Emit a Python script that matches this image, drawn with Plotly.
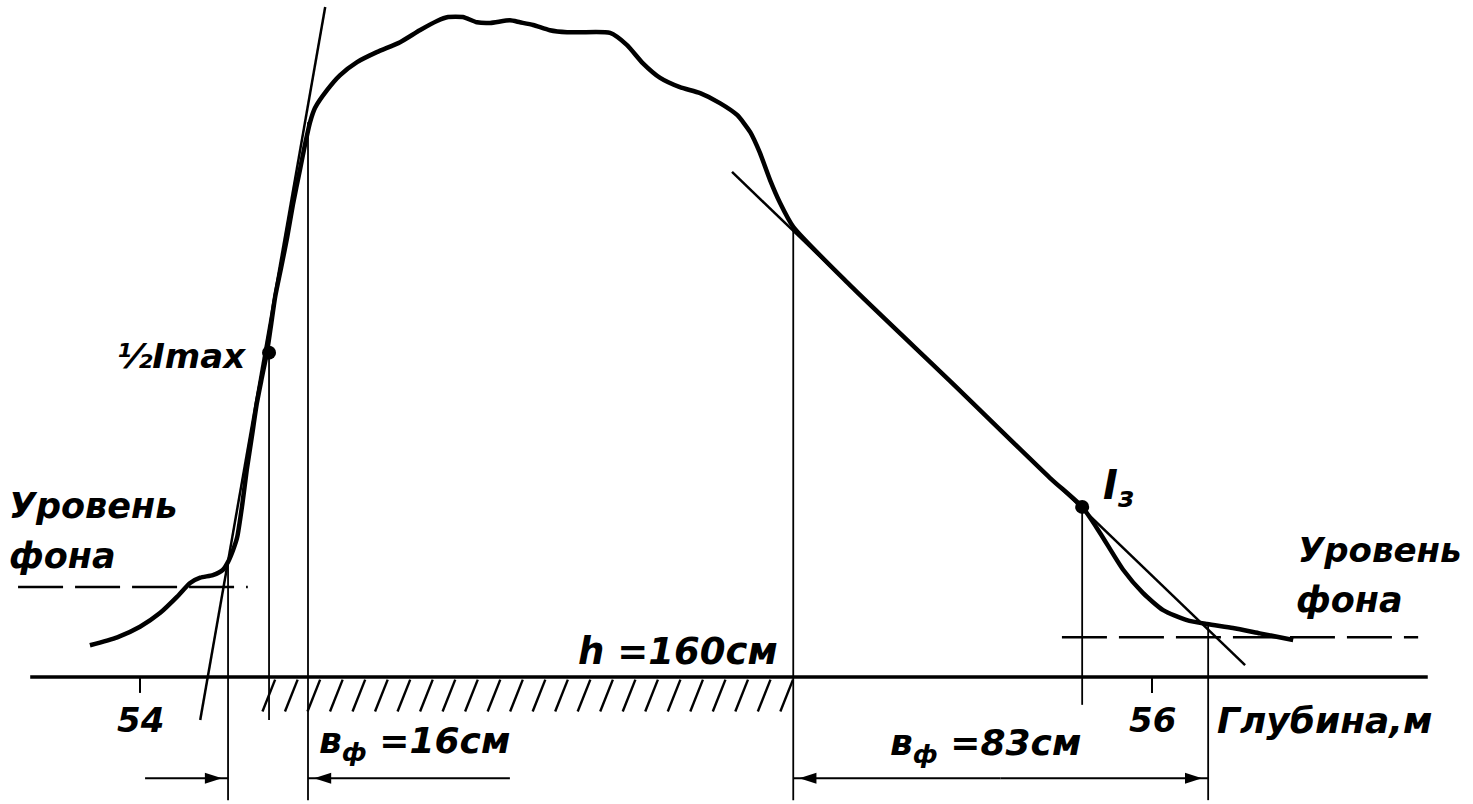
import numpy as np
import plotly.graph_objects as go

# ---- data (depth in m, intensity relative to Imax) ----
depth = [53.901, 53.955, 54.000, 54.040, 54.073, 54.099, 54.119, 54.144, 54.164, 54.174,
         54.184, 54.192, 54.202, 54.211, 54.221, 54.231, 54.241, 54.251, 54.259, 54.267,
         54.279, 54.291, 54.302, 54.316, 54.326, 54.336, 54.346, 54.370, 54.395, 54.429,
         54.468, 54.514, 54.553, 54.587, 54.609, 54.638, 54.666, 54.692, 54.731, 54.751,
         54.777, 54.810, 54.844, 54.870, 54.929, 54.962, 54.994, 55.028, 55.067, 55.107,
         55.146, 55.180, 55.206, 55.225, 55.245, 55.265, 55.291, 55.403, 55.601, 55.798,
         55.862, 55.897, 55.943, 55.982, 56.022, 56.069, 56.109, 56.160, 56.213, 56.279]
intensity = [0.048, 0.060, 0.076, 0.097, 0.121, 0.142, 0.150, 0.154, 0.162, 0.174,
             0.192, 0.211, 0.260, 0.313, 0.363, 0.414, 0.453, 0.491, 0.532, 0.574,
             0.619, 0.665, 0.713, 0.766, 0.804, 0.838, 0.860, 0.887, 0.909, 0.929,
             0.944, 0.959, 0.977, 0.991, 0.997, 0.997, 0.989, 0.988, 0.992, 0.989,
             0.985, 0.977, 0.974, 0.974, 0.973, 0.955, 0.927, 0.905, 0.891, 0.882,
             0.867, 0.849, 0.823, 0.792, 0.751, 0.716, 0.680, 0.592, 0.447, 0.301,
             0.257, 0.218, 0.162, 0.127, 0.101, 0.086, 0.080, 0.074, 0.066, 0.056]

tangent_left_x = [54.119, 54.366]
tangent_left_y = [-0.065, 1.012]
tangent_right_x = [55.170, 56.184]
tangent_right_y = [0.763, 0.018]

half_imax = (54.255, 0.490)
i3_point = (55.862, 0.257)

bg_left = 0.136
bg_left_span = [53.759, 54.213]
bg_right = 0.060
bg_right_span = [55.822, 56.526]

# vertical construction lines: x, y_top, y_bottom
verticals = [(54.174, 0.174, -0.186), (54.255, 0.490, -0.065), (54.332, 0.838, -0.186),
             (55.291, 0.680, -0.186), (55.862, 0.257, -0.042), (56.111, 0.082, -0.186)]

tick_values = [54, 56]
tick_labels = ["54", "56"]
axis_span = [53.783, 56.545]
hatch_span = [54.255, 55.291]

# dimension arrows: (tail, head) in depth
dim_arrows = [(54.010, 54.174), (54.731, 54.332), (55.701, 55.291), (55.701, 56.111)]
dim_level = -0.153

xr = [53.7233, 56.6344]
yr = [-0.1918, 1.0227]

FONT = "DejaVu Sans, Liberation Sans"
INK = "#000000"

fig = go.Figure()

def line(x, y, w=2, dash=None):
    fig.add_trace(go.Scatter(x=x, y=y, mode="lines",
                             line=dict(color=INK, width=w, dash=dash),
                             hoverinfo="skip", showlegend=False))

# baseline
line(axis_span, [0, 0], 3.5)
# ticks
for t in tick_values:
    line([t, t], [0, -0.024], 2)
# hatching below baseline
hx, hy = [], []
for x0 in np.arange(hatch_span[0] + 0.012, hatch_span[1], 0.0445):
    hx += [x0 - 0.025, x0, None]
    hy += [-0.052, -0.004, None]
line(hx, hy, 2.4)
# background level dashed lines
line(bg_left_span, [bg_left, bg_left], 2.5, "45px,12px")
line(bg_right_span, [bg_right, bg_right], 2.5, "45px,12px")
# verticals
for vx, vt, vb in verticals:
    line([vx, vx], [vt, vb], 1.8)
# tangents
line(tangent_left_x, tangent_left_y, 2.5)
line(tangent_right_x, tangent_right_y, 2.5)
# main curve
fig.add_trace(go.Scatter(x=depth, y=intensity, mode="lines",
                         line=dict(color=INK, width=4.5, shape="spline", smoothing=0.6),
                         hoverinfo="skip", showlegend=False))
# points
fig.add_trace(go.Scatter(x=[half_imax[0], i3_point[0]], y=[half_imax[1], i3_point[1]],
                         mode="markers", marker=dict(color=INK, size=14),
                         hoverinfo="skip", showlegend=False))

# dimension arrows (line + arrow marker at head)
for tail, head in dim_arrows:
    line([tail, head], [dim_level, dim_level], 2)
    fig.add_trace(go.Scatter(x=[head - (0.012 if head > tail else -0.012)], y=[dim_level],
                             mode="markers",
                             marker=dict(symbol="arrow", size=18, color=INK,
                                         angle=90 if head > tail else -90),
                             hoverinfo="skip", showlegend=False))

def text(x, y, s, size=38, anchor="center"):
    fig.add_annotation(x=x, y=y, xref="x", yref="y", text=s, showarrow=False,
                       xanchor=anchor, yanchor="middle",
                       font=dict(family=FONT, size=size, color=INK, style="italic",
                                 weight="bold"))

for t, lab in zip(tick_values, tick_labels):
    text(t, -0.065, lab, 34)
text(56.341, -0.065, "Глубина,м", 36)
text(55.064, 0.038, "h =160см", 37)
text(54.543, -0.100, "в<sub>ф</sub> =16см", 36)
text(55.670, -0.103, "в<sub>ф</sub> =83см", 36)
text(54.214, 0.485, "½Imax", 34, "right")
text(55.900, 0.285, "I<sub>з</sub>", 40, "left")
text(53.737, 0.258, "Уровень", 35, "left")
text(53.737, 0.183, "фона", 35, "left")
text(56.284, 0.192, "Уровень", 34, "left")
text(56.281, 0.116, "фона", 35, "left")

fig.update_layout(width=1473, height=804, autosize=False,
                  margin=dict(l=0, r=0, t=0, b=0),
                  paper_bgcolor="white", plot_bgcolor="white",
                  xaxis=dict(range=xr, visible=False, fixedrange=True),
                  yaxis=dict(range=yr, visible=False, fixedrange=True),
                  showlegend=False)
fig.write_html("out.html", config={"displayModeBar": False},
               post_script="document.body.style.margin='0';document.body.style.overflow='hidden';")
